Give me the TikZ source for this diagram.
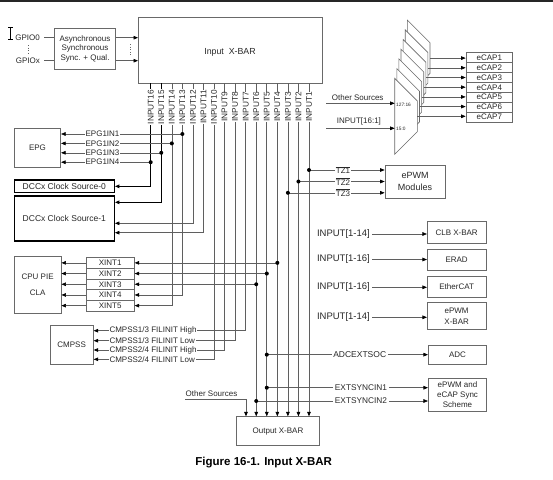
\documentclass[tikz,border=0pt]{standalone}
\usepackage{fontspec}
\setmainfont{Liberation Sans}
\usetikzlibrary{arrows.meta,calc}
\definecolor{lnc}{RGB}{95,95,95}
\definecolor{boxc}{RGB}{105,105,105}
\definecolor{txt}{RGB}{40,40,40}
\begin{document}
\begin{tikzpicture}[x=1pt,y=-1pt,
  every node/.style={font=\fontsize{8}{9.7}\selectfont, text=txt},
  ln/.style={draw=lnc, line width=0.6pt},
  arr/.style={ln, -{Triangle[length=4.5pt,width=3.6pt,color=black]}},
  dk/.style={draw=black, line width=1pt},
  box/.style={draw=boxc, line width=0.7pt, fill=white, align=center, inner sep=1pt},
  dccbox/.style={draw=black, line width=1.3pt, fill=white, align=center, inner sep=1pt, font=\fontsize{8.5}{10}\selectfont},
  lab/.style={fill=white, inner sep=0.8pt},
  inlab/.style={fill=white, inner sep=0.6pt, rotate=90, font=\fontsize{8.3}{9}\selectfont},
  dot/.style={circle, fill=black, inner sep=0pt, minimum size=4pt},
  biglab/.style={inner sep=2pt, font=\fontsize{9.5}{11}\selectfont}]
\useasboundingbox (0,0) rectangle (553,479);

% header rule and cursor
\draw[line width=2.4pt, black!85] (0,1.2) -- (553,1.2);
\draw[line width=0.9pt, black] (10.3,27.5) -- (10.3,39) (8,27.3) -- (12.6,27.3) (8,39.3) -- (12.6,39.3);

% ---------- nodes ----------
\node[box, minimum width=61.4pt, minimum height=41pt] (async) at (85,48.8) {Asynchronous\\Synchronous\\Sync. + Qual.};
\node[anchor=east, inner sep=1pt] (g0) at (41,37.7) {GPIO0};
\node[anchor=east, inner sep=1pt] (gx) at (41,60.7) {GPIOx};
\node[box, minimum width=184pt, minimum height=66pt, anchor=north west] (ixb) at (138,17) {};
\node[font=\fontsize{8.8}{10}\selectfont] (ixbt) at (230,52.5) {Input\ \ X-BAR};

\node[box, minimum width=46.4pt, minimum height=39pt] (epg) at (37.5,147.8) {EPG};
\node[dccbox, minimum width=100pt, minimum height=12.7pt] (dcc0) at (64.3,186.35) {DCCx Clock Source-0};
\node[dccbox, minimum width=100pt, minimum height=45pt] (dcc1) at (64.3,218.5) {DCCx Clock Source-1};

\node[box, minimum width=47pt, minimum height=57.3pt] (cpu) at (37.6,284.65) {CPU PIE\\[6pt]CLA};
\foreach \i in {1,...,5}{
  \node[box, minimum width=48.3pt, minimum height=10.7pt, inner sep=0pt] (xint\i) at (110.15,{262.85+10.7*(\i-1)}) {XINT\i};
}
\node[box, minimum width=43.3pt, minimum height=39pt] (cmpss) at (71.65,344.8) {CMPSS};
\node[box, minimum width=82.6pt, minimum height=29pt] (oxb) at (278,431.2) {Output X-BAR};

\node[box, minimum width=60pt, minimum height=33.3pt, font=\fontsize{9}{12}\selectfont] (epwm) at (415,181.65) {ePWM\\Modules};
\node[box, minimum width=58.7pt, minimum height=21.6pt] (clb) at (456.65,232.5) {CLB X-BAR};
\node[box, minimum width=58.7pt, minimum height=20.7pt] (erad) at (456.65,259.65) {ERAD};
\node[box, minimum width=58.7pt, minimum height=20.6pt] (ecat) at (456.65,287) {EtherCAT};
\node[box, minimum width=58.7pt, minimum height=26.6pt, font=\fontsize{8}{11}\selectfont] (pxb) at (456.65,316) {ePWM\\X-BAR};
\node[box, minimum width=58.4pt, minimum height=19.3pt] (adc) at (457.5,354.65) {ADC};
\node[box, minimum width=58.4pt, minimum height=32.7pt, font=\fontsize{8}{10.3}\selectfont] (sync) at (457.5,394.65) {ePWM and\\eCAP Sync\\Scheme};

\foreach \i in {1,...,7}{
  \node[box, minimum width=46.7pt, minimum height=9.9pt, inner sep=0pt] (ecap\i) at (489.35,{57.6+9.9*(\i-1)}) {eCAP\i};
}

% ---------- GPIO to Input X-BAR ----------
\draw[ln] (g0.east) ++(3pt,0) -- (async.west |- g0);
\draw[ln] (gx.east) ++(3pt,0) -- (async.west |- gx);
\draw[ln, dotted, line width=0.8pt] (28,45) -- (28,53.5);
\draw[arr] (async.east |- g0) -- (ixb.west |- g0);
\draw[arr] (async.east |- gx) -- (ixb.west |- gx);
\draw[draw=boxc, dotted, line width=0.6pt] (130,44) -- (130,56);

% ---------- INPUT lines ----------
\foreach \i in {1,...,16}{
  \pgfmathsetmacro{\xx}{309-(\i-1)*10.553}
  \coordinate (in\i) at (\xx,83);
}
\draw[arr,dk] (in16) |- (dcc0.east);
\draw[arr,dk] (in15) |- (dcc1.east |- 0,202.3);
\draw[arr] (in12) |- (dcc1.east |- 0,223.3);
\draw[arr] (in11) |- (dcc1.east |- 0,232.7);
\draw[arr] (in14) |- (xint5.east);
\draw[arr] (in13) |- (xint4.east);
\draw[arr] (in7) |- (cmpss.east |- 0,330.7);
\draw[arr] (in8) |- (cmpss.east |- 0,340.7);
\draw[arr] (in9) |- (cmpss.east |- 0,350);
\draw[arr] (in10) |- (cmpss.east |- 0,359.3);
\foreach \i in {1,...,6}{
  \draw[arr] (in\i) -- (in\i |- oxb.north);
}

% EPG
\draw[arr] (in13 |- 0,134) -- (epg.east |- 0,134);
\draw[arr] (in14 |- 0,143.4) -- (epg.east |- 0,143.4);
\draw[arr] (in15 |- 0,152.8) -- (epg.east |- 0,152.8);
\draw[arr] (in16 |- 0,162.2) -- (epg.east |- 0,162.2);

% XINT 1-3
\draw[arr] (in4 |- xint1) -- (xint1.east);
\draw[arr] (in5 |- xint2) -- (xint2.east);
\draw[arr] (in6 |- xint3) -- (xint3.east);
\foreach \i in {1,...,5}{
  \draw[arr] (xint\i.west) -- (cpu.east |- xint\i.west);
}

% TZ
\draw[arr] (in1 |- 0,170) -- (epwm.west |- 0,170);
\draw[arr] (in2 |- 0,181.5) -- (epwm.west |- 0,181.5);
\draw[arr] (in3 |- 0,192.8) -- (epwm.west |- 0,192.8);

% ADC and sync
\draw[arr] (in5 |- adc) -- (adc.west);
\draw[arr] (in5 |- 0,387.7) -- (sync.west |- 0,387.7);
\draw[arr] (in6 |- 0,401) -- (sync.west |- 0,401);

% Other sources to Output X-BAR
\coordinate (osl) at (185,399.3);
\draw[arr] (osl) -| (246,0 |- oxb.north);
\node[anchor=base west, inner sep=0pt] (ost) at (185.5,396.8) {Other Sources};

% ---------- capture muxes ----------
\foreach \k in {6,5,...,0}{
  \pgfmathsetmacro{\mx}{394.7+2.1*\k}
  \pgfmathsetmacro{\my}{78.3-9.7*\k}
  \draw[draw=boxc, line width=0.6pt, fill=white] (\mx,\my) -- ++(22.7,22.7) -- ++(0,30.6) -- ++(-22.7,22.7) -- cycle;
  \coordinate (mo\k) at (\mx+22.7,\my+38);
}
\foreach \k in {0,...,6}{
  \pgfmathtruncatemacro{\e}{7-\k}
  \draw[arr] (mo\k) -- (ecap\e.west |- mo\k);
}
\node[anchor=west, inner sep=0.5pt, font=\fontsize{4.8}{5}\selectfont] (m1) at (395.5,105) {127:16};
\node[anchor=west, inner sep=0.5pt, font=\fontsize{4.8}{5}\selectfont] (m2) at (395.5,128.6) {15:0};
\coordinate (os1) at (326,103.3);
\coordinate (ip1) at (326,128.3);
\draw[arr] (os1) -- (394.7,103.3);
\draw[arr] (ip1) -- (394.7,128.3);
\node[anchor=base west, inner sep=0pt] (ost2) at (331.7,100.2) {Other Sources};
\node[anchor=base west, inner sep=0pt] (ipt) at (336.7,123.9) {INPUT[16:1]};

% ---------- right side inputs ----------
\node[biglab, anchor=east] (l1) at (372,234) {INPUT[1-14]};
\node[biglab, anchor=east] (l2) at (372,259.5) {INPUT[1-16]};
\node[biglab, anchor=east] (l3) at (372,287.3) {INPUT[1-16]};
\node[biglab, anchor=east] (l4) at (372,317.3) {INPUT[1-14]};
\draw[arr] (l1.east) -- (clb.west |- l1.east);
\draw[arr] (l2.east) -- (erad.west |- l2.east);
\draw[arr] (l3.east) -- (ecat.west |- l3.east);
\draw[arr] (l4.east) -- (pxb.west |- l4.east);

% ---------- labels on lines ----------
\foreach \i in {1,...,16}{
  \node[inlab] at ($(in\i)+(0,24)$) {INPUT\i};
}
\node[lab] at (102.5,134) {EPG1IN1};
\node[lab] at (102.5,143.4) {EPG1IN2};
\node[lab] at (102.5,152.8) {EPG1IN3};
\node[lab] at (102.5,162.2) {EPG1IN4};
\node[lab, anchor=west] at (108.5,330.7) {CMPSS1/3 FILINIT High};
\node[lab, anchor=west] at (108.5,340.7) {CMPSS1/3 FILINIT Low};
\node[lab, anchor=west] at (108.5,350) {CMPSS2/4 FILINIT High};
\node[lab, anchor=west] at (108.5,359.3) {CMPSS2/4 FILINIT Low};
\node[lab] at (343,170) {$\overline{\mbox{TZ1}}$};
\node[lab] at (343,181.5) {$\overline{\mbox{TZ2}}$};
\node[lab] at (343,192.8) {$\overline{\mbox{TZ3}}$};
\node[lab, inner sep=1.5pt, font=\fontsize{8.5}{10}\selectfont] at (359.7,354.65) {ADCEXTSOC};
\node[lab, inner sep=1.5pt, font=\fontsize{8.3}{10}\selectfont] at (361,387.7) {EXTSYNCIN1};
\node[lab, inner sep=1.5pt, font=\fontsize{8.3}{10}\selectfont] at (361,401) {EXTSYNCIN2};

% ---------- junction dots ----------
\foreach \p in {(in13 |- 0,134), (in14 |- 0,143.4), (in15 |- 0,152.8), (in16 |- 0,162.2),
  (in1 |- 0,170), (in2 |- 0,181.5), (in3 |- 0,192.8),
  (in4 |- xint1), (in5 |- xint2), (in6 |- xint3),
  (in5 |- adc), (in5 |- 0,387.7), (in6 |- 0,401)}{
  \node[dot] at \p {};
}

% caption
\node[font=\bfseries\fontsize{11.5}{13}\selectfont, text=black] (cap) at (263.7,462.7) {Figure 16-1. Input X-BAR};
\end{tikzpicture}
\end{document}
